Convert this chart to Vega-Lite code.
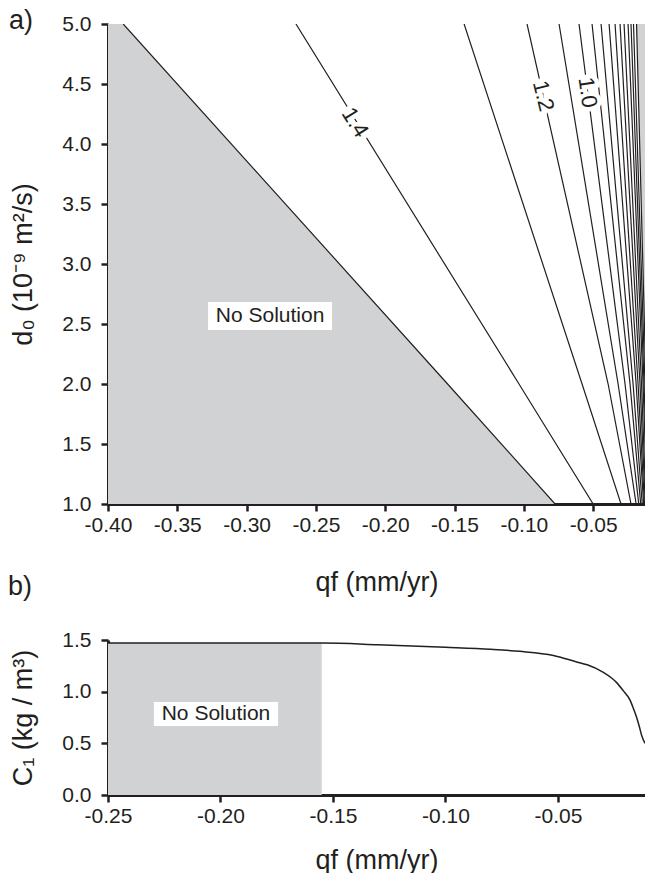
{
  "$schema": "https://vega.github.io/schema/vega-lite/v6.json",
  "padding": {"left": 8, "top": 6, "right": 0, "bottom": 0},
  "bounds": "flush",
  "spacing": 136,
  "background": "white",
  "config": {
    "view": {"stroke": null},
    "font": "Liberation Sans",
    "axis": {
      "domainColor": "#231f20", "domainWidth": 3,
      "tickColor": "#231f20", "tickWidth": 2.5, "tickSize": 7,
      "labelFont": "Liberation Sans", "labelFontSize": 21, "labelColor": "#231f20", "labelPadding": 6,
      "labelFlush": false, "labelOverlap": false,
      "titleFont": "Liberation Sans", "titleFontSize": 27, "titleFontWeight": "normal", "titleColor": "#231f20",
      "grid": false
    },
    "axisY": {"labelPadding": 10},
    "axisX": {"labelPadding": 3}
  },
  "datasets": {
    "grayLeft": [
      {"d": 1, "q": -0.0775},
      {"d": 2, "q": -0.155},
      {"d": 5, "q": -0.389}
    ],
    "grayRight": [
      {"d": 1, "q": -0.009},
      {"d": 2, "q": -0.0119},
      {"d": 5, "q": -0.0187}
    ],
    "contours": [
      {"lvl": "bL", "d": 1, "q": -0.0775}, {"lvl": "bL", "d": 2, "q": -0.155}, {"lvl": "bL", "d": 5, "q": -0.389},
      {"lvl": "1.4", "d": 1, "q": -0.05}, {"lvl": "1.4", "d": 2, "q": -0.1035}, {"lvl": "1.4", "d": 5, "q": -0.2644},
      {"lvl": "1.3", "d": 1, "q": -0.0299}, {"lvl": "1.3", "d": 2, "q": -0.058}, {"lvl": "1.3", "d": 5, "q": -0.1431},
      {"lvl": "1.2", "d": 1, "q": -0.0227}, {"lvl": "1.2", "d": 2, "q": -0.0392}, {"lvl": "1.2", "d": 5, "q": -0.0977},
      {"lvl": "1.1", "d": 1, "q": -0.019}, {"lvl": "1.1", "d": 2, "q": -0.032}, {"lvl": "1.1", "d": 5, "q": -0.0746},
      {"lvl": "1.0", "d": 1, "q": -0.0171}, {"lvl": "1.0", "d": 2, "q": -0.027}, {"lvl": "1.0", "d": 5, "q": -0.0602},
      {"lvl": "0.9", "d": 1, "q": -0.0157}, {"lvl": "0.9", "d": 2, "q": -0.0234}, {"lvl": "0.9", "d": 5, "q": -0.0508},
      {"lvl": "0.8", "d": 1, "q": -0.0146}, {"lvl": "0.8", "d": 2, "q": -0.0212}, {"lvl": "0.8", "d": 5, "q": -0.0443},
      {"lvl": "0.7", "d": 1, "q": -0.0136}, {"lvl": "0.7", "d": 2, "q": -0.019}, {"lvl": "0.7", "d": 5, "q": -0.0385},
      {"lvl": "0.6", "d": 1, "q": -0.013}, {"lvl": "0.6", "d": 2, "q": -0.0176}, {"lvl": "0.6", "d": 5, "q": -0.0342},
      {"lvl": "0.5", "d": 1, "q": -0.0124}, {"lvl": "0.5", "d": 2, "q": -0.0162}, {"lvl": "0.5", "d": 5, "q": -0.0306},
      {"lvl": "0.4", "d": 1, "q": -0.0119}, {"lvl": "0.4", "d": 2, "q": -0.0151}, {"lvl": "0.4", "d": 5, "q": -0.0277},
      {"lvl": "0.3", "d": 1, "q": -0.0111}, {"lvl": "0.3", "d": 2, "q": -0.014}, {"lvl": "0.3", "d": 5, "q": -0.0248},
      {"lvl": "0.2", "d": 1, "q": -0.0104}, {"lvl": "0.2", "d": 2, "q": -0.0133}, {"lvl": "0.2", "d": 5, "q": -0.0227},
      {"lvl": "0.1", "d": 1, "q": -0.0097}, {"lvl": "0.1", "d": 2, "q": -0.0126}, {"lvl": "0.1", "d": 5, "q": -0.0209},
      {"lvl": "bR", "d": 1, "q": -0.009}, {"lvl": "bR", "d": 2, "q": -0.0119}, {"lvl": "bR", "d": 5, "q": -0.0187}
    ],
    "labelsA": [
      {"lab": "1.4", "q": -0.2218, "d": 4.18},
      {"lab": "1.2", "q": -0.086, "d": 4.4},
      {"lab": "1.0", "q": -0.054, "d": 4.43}
    ],
    "noSolA": [{"q": -0.3278, "q2": -0.2384, "qc": -0.2831, "d": 2.45, "d2": 2.683, "dc": 2.567, "t": "No Solution"}],
    "panelA": [{"q": -0.4628, "d": 5.025, "t": "a)"}],
    "grayB": [{"q": -0.25, "q2": -0.155, "c": 0, "c2": 1.47}],
    "noSolB": [{"q": -0.2296, "q2": -0.1744, "qc": -0.202, "c": 0.668, "c2": 0.901, "cc": 0.784, "t": "No Solution"}],
    "curveB": [
      {"q": -0.25, "c": 1.47}, {"q": -0.155, "c": 1.47}, {"q": -0.13, "c": 1.455},
      {"q": -0.1, "c": 1.43}, {"q": -0.08, "c": 1.41}, {"q": -0.067, "c": 1.39},
      {"q": -0.052, "c": 1.35}, {"q": -0.042, "c": 1.29}, {"q": -0.037, "c": 1.26},
      {"q": -0.03, "c": 1.19}, {"q": -0.026, "c": 1.13}, {"q": -0.024, "c": 1.09},
      {"q": -0.021, "c": 1.01}, {"q": -0.018, "c": 0.92}, {"q": -0.0165, "c": 0.84},
      {"q": -0.015, "c": 0.75}, {"q": -0.0138, "c": 0.66}, {"q": -0.0127, "c": 0.57},
      {"q": -0.0113, "c": 0.5}
    ],
    "panelB": [{"q": -0.2891, "c": 2.013, "t": "b)"}]
  },
  "vconcat": [
    {
      "width": 537,
      "height": 480,
      "layer": [
        {
          "data": {"name": "grayLeft"},
          "mark": {"type": "area", "orient": "horizontal", "color": "#d1d2d4", "clip": true},
          "encoding": {
            "x": {"field": "q", "type": "quantitative",
                  "scale": {"domain": [-0.4, -0.0126], "nice": false, "zero": false},
                  "axis": {"values": [-0.4, -0.35, -0.3, -0.25, -0.2, -0.15, -0.1, -0.05],
                           "labelExpr": "replace(format(datum.value, '.2f'), '\u2212', '-')",
                           "title": "qf (mm/yr)", "titlePadding": 34}},
            "x2": {"datum": -0.4},
            "y": {"field": "d", "type": "quantitative",
                  "scale": {"domain": [1, 5], "nice": false, "zero": false},
                  "axis": {"values": [1, 1.5, 2, 2.5, 3, 3.5, 4, 4.5, 5], "format": ".1f",
                           "title": "d₀ (10⁻⁹ m²/s)", "titlePadding": 24}}
          }
        },
        {
          "data": {"name": "grayRight"},
          "mark": {"type": "area", "orient": "horizontal", "color": "#d1d2d4", "clip": true},
          "encoding": {
            "x": {"field": "q", "type": "quantitative"},
            "x2": {"datum": 0},
            "y": {"field": "d", "type": "quantitative"}
          }
        },
        {
          "data": {"name": "contours"},
          "mark": {"type": "line", "color": "#231f20", "strokeWidth": 1.2, "clip": true},
          "encoding": {
            "x": {"field": "q", "type": "quantitative"},
            "y": {"field": "d", "type": "quantitative"},
            "detail": {"field": "lvl"},
            "order": {"field": "d", "type": "quantitative"}
          }
        },
        {
          "mark": {"type": "rule", "color": "#231f20", "strokeWidth": 2.5, "strokeDash": [14, 8]},
          "encoding": {"y": {"datum": 2}}
        },
        {
          "mark": {"type": "rule", "color": "#231f20", "strokeWidth": 3},
          "encoding": {"y": {"datum": 5}}
        },
        {
          "data": {"name": "labelsA"},
          "transform": [{"filter": "datum.lab == '1.4'"}],
          "mark": {"type": "text", "angle": 58, "fontSize": 22, "fill": "white", "stroke": "white", "strokeWidth": 9},
          "encoding": {"x": {"field": "q", "type": "quantitative"}, "y": {"field": "d", "type": "quantitative"}, "text": {"field": "lab"}}
        },
        {
          "data": {"name": "labelsA"},
          "transform": [{"filter": "datum.lab == '1.4'"}],
          "mark": {"type": "text", "angle": 58, "fontSize": 22, "fill": "#231f20"},
          "encoding": {"x": {"field": "q", "type": "quantitative"}, "y": {"field": "d", "type": "quantitative"}, "text": {"field": "lab"}}
        },
        {
          "data": {"name": "labelsA"},
          "transform": [{"filter": "datum.lab == '1.2'"}],
          "mark": {"type": "text", "angle": 76, "fontSize": 22, "fill": "white", "stroke": "white", "strokeWidth": 9},
          "encoding": {"x": {"field": "q", "type": "quantitative"}, "y": {"field": "d", "type": "quantitative"}, "text": {"field": "lab"}}
        },
        {
          "data": {"name": "labelsA"},
          "transform": [{"filter": "datum.lab == '1.2'"}],
          "mark": {"type": "text", "angle": 76, "fontSize": 22, "fill": "#231f20"},
          "encoding": {"x": {"field": "q", "type": "quantitative"}, "y": {"field": "d", "type": "quantitative"}, "text": {"field": "lab"}}
        },
        {
          "data": {"name": "labelsA"},
          "transform": [{"filter": "datum.lab == '1.0'"}],
          "mark": {"type": "text", "angle": 82, "fontSize": 22, "fill": "white", "stroke": "white", "strokeWidth": 9},
          "encoding": {"x": {"field": "q", "type": "quantitative"}, "y": {"field": "d", "type": "quantitative"}, "text": {"field": "lab"}}
        },
        {
          "data": {"name": "labelsA"},
          "transform": [{"filter": "datum.lab == '1.0'"}],
          "mark": {"type": "text", "angle": 82, "fontSize": 22, "fill": "#231f20"},
          "encoding": {"x": {"field": "q", "type": "quantitative"}, "y": {"field": "d", "type": "quantitative"}, "text": {"field": "lab"}}
        },
        {
          "data": {"name": "noSolA"},
          "mark": {"type": "rect", "color": "white"},
          "encoding": {
            "x": {"field": "q", "type": "quantitative"}, "x2": {"field": "q2"},
            "y": {"field": "d", "type": "quantitative"}, "y2": {"field": "d2"}
          }
        },
        {
          "data": {"name": "noSolA"},
          "mark": {"type": "text", "fontSize": 21, "color": "#231f20"},
          "encoding": {
            "x": {"field": "qc", "type": "quantitative"},
            "y": {"field": "dc", "type": "quantitative"},
            "text": {"field": "t"}
          }
        },
        {
          "data": {"name": "panelA"},
          "mark": {"type": "text", "fontSize": 27, "color": "#231f20"},
          "encoding": {
            "x": {"field": "q", "type": "quantitative"},
            "y": {"field": "d", "type": "quantitative"},
            "text": {"field": "t"}
          }
        }
      ]
    },
    {
      "width": 537,
      "height": 155,
      "layer": [
        {
          "data": {"name": "grayB"},
          "mark": {"type": "rect", "color": "#d1d2d4"},
          "encoding": {
            "x": {"field": "q", "type": "quantitative",
                  "scale": {"domain": [-0.25, -0.0113], "nice": false, "zero": false},
                  "axis": {"values": [-0.25, -0.2, -0.15, -0.1, -0.05],
                           "labelExpr": "replace(format(datum.value, '.2f'), '\u2212', '-')",
                           "title": "qf (mm/yr)", "titlePadding": 21}},
            "x2": {"field": "q2"},
            "y": {"field": "c", "type": "quantitative",
                  "scale": {"domain": [0, 1.5], "nice": false, "zero": false},
                  "axis": {"values": [0, 0.5, 1, 1.5], "format": ".1f",
                           "title": "C₁ (kg / m³)", "titlePadding": 24}},
            "y2": {"field": "c2"}
          }
        },
        {
          "data": {"name": "noSolB"},
          "mark": {"type": "rect", "color": "white"},
          "encoding": {
            "x": {"field": "q", "type": "quantitative"}, "x2": {"field": "q2"},
            "y": {"field": "c", "type": "quantitative"}, "y2": {"field": "c2"}
          }
        },
        {
          "data": {"name": "noSolB"},
          "mark": {"type": "text", "fontSize": 21, "color": "#231f20"},
          "encoding": {
            "x": {"field": "qc", "type": "quantitative"},
            "y": {"field": "cc", "type": "quantitative"},
            "text": {"field": "t"}
          }
        },
        {
          "data": {"name": "curveB"},
          "mark": {"type": "line", "color": "#231f20", "strokeWidth": 1.5, "clip": true, "interpolate": "monotone"},
          "encoding": {
            "x": {"field": "q", "type": "quantitative"},
            "y": {"field": "c", "type": "quantitative"}
          }
        },
        {
          "data": {"name": "panelB"},
          "mark": {"type": "text", "fontSize": 27, "color": "#231f20"},
          "encoding": {
            "x": {"field": "q", "type": "quantitative"},
            "y": {"field": "c", "type": "quantitative"},
            "text": {"field": "t"}
          }
        }
      ]
    }
  ]
}
